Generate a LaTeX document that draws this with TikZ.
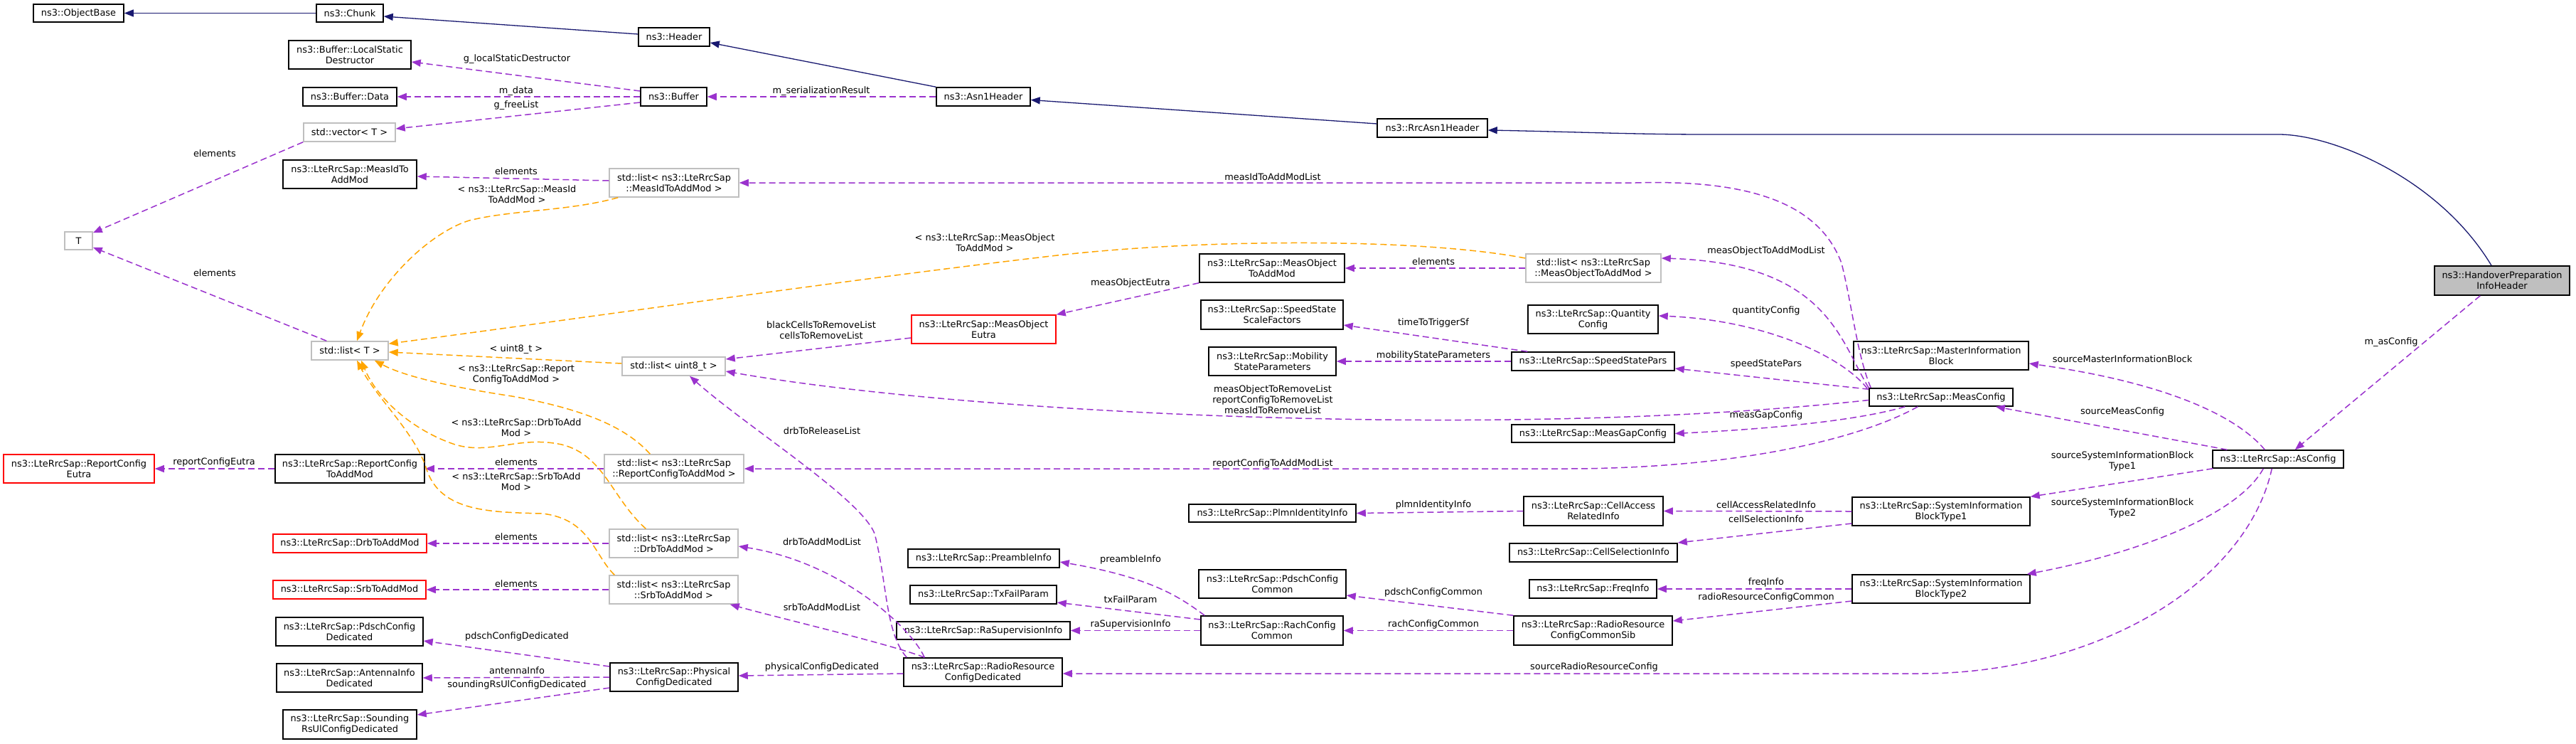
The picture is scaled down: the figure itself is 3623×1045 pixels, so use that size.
\documentclass[tikz,border=0pt]{standalone}
\usepackage{fontspec}
\newfontfamily\dvs{DejaVu Sans}
\usetikzlibrary{arrows.meta,calc}
\definecolor{inhblue}{HTML}{191970}
\definecolor{usepurple}{HTML}{9A32CD}
\definecolor{tmplorange}{HTML}{FFA500}
\definecolor{tplgray}{HTML}{BFBFBF}
\definecolor{mainfill}{HTML}{BFBFBF}
\newcommand\lbl{\dvs\fontsize{12.9}{15}\selectfont}
\begin{document}
\begin{tikzpicture}[x=1pt,y=-1pt,
 box/.style={draw=black, line width=1.5pt, fill=white, inner sep=0pt, align=center, font=\lbl, text=black},
 tpl/.style={box, draw=tplgray},
 undoc/.style={box, draw=red},
 mainbox/.style={box, fill=mainfill},
 lab/.style={inner sep=0pt, align=center, font=\lbl},
 inh/.style={draw=inhblue, line width=1.3pt, -{Triangle[length=13pt,width=10pt]}},
 use/.style={draw=usepurple, line width=1.5pt, dash pattern=on 9pt off 5pt, -{Triangle[length=13pt,width=10pt]}},
 tmpl/.style={draw=tmplorange, line width=1.5pt, dash pattern=on 9pt off 5pt, -{Triangle[length=13pt,width=10pt]}}]
\useasboundingbox (0,0) rectangle (3623,1045);
% nodes
\node[box,minimum width=127pt,minimum height=25pt] (ob) at (110.5,18.5) {ns3::ObjectBase};
\node[box,minimum width=94pt,minimum height=25pt] (chunk) at (492,18.5) {ns3::Chunk};
\node[box,minimum width=100pt,minimum height=26pt] (header) at (948,52) {ns3::Header};
\node[box,minimum width=172pt,minimum height=40pt] (lsd) at (492,77) {ns3::Buffer::LocalStatic\\Destructor};
\node[box,minimum width=132pt,minimum height=26pt] (bdata) at (492,136) {ns3::Buffer::Data};
\node[tpl,minimum width=129pt,minimum height=26pt] (vec) at (491.5,186) {std::vector< T >};
\node[box,minimum width=188pt,minimum height=40pt] (midam) at (492,245) {ns3::LteRrcSap::MeasIdTo\\AddMod};
\node[tpl,minimum width=182pt,minimum height=40pt] (lmid) at (948,257) {std::list< ns3::LteRrcSap\\::MeasIdToAddMod >};
\node[box,minimum width=93pt,minimum height=26pt] (buffer) at (947.5,136) {ns3::Buffer};
\node[tpl,minimum width=39pt,minimum height=25pt] (T) at (110.5,338.5) {T};
\node[box,minimum width=132pt,minimum height=26pt] (asn1) at (1383,136) {ns3::Asn1Header};
\node[box,minimum width=155pt,minimum height=26pt] (rrc) at (2014.5,180) {ns3::RrcAsn1Header};
\node[mainbox,minimum width=190pt,minimum height=41pt] (hpih) at (3519,394.5) {ns3::HandoverPreparation\\InfoHeader};
\node[box,minimum width=246pt,minimum height=40pt] (mib) at (2730,500) {ns3::LteRrcSap::MasterInformation\\Block};
\node[box,minimum width=202pt,minimum height=25pt] (mc) at (2730,558.5) {ns3::LteRrcSap::MeasConfig};
\node[box,minimum width=184pt,minimum height=25pt] (asc) at (3204,645.5) {ns3::LteRrcSap::AsConfig};
\node[box,minimum width=250pt,minimum height=40pt] (sib1) at (2730,719) {ns3::LteRrcSap::SystemInformation\\BlockType1};
\node[box,minimum width=250pt,minimum height=40pt] (sib2) at (2730,828) {ns3::LteRrcSap::SystemInformation\\BlockType2};
\node[tpl,minimum width=190pt,minimum height=40pt] (lmo) at (2241,377) {std::list< ns3::LteRrcSap\\::MeasObjectToAddMod >};
\node[box,minimum width=204pt,minimum height=40pt] (moam) at (1789,377) {ns3::LteRrcSap::MeasObject\\ToAddMod};
\node[box,minimum width=200pt,minimum height=41pt] (sssf) at (1789,442.5) {ns3::LteRrcSap::SpeedState\\ScaleFactors};
\node[box,minimum width=179pt,minimum height=40pt] (msp) at (1789.5,508) {ns3::LteRrcSap::Mobility\\StateParameters};
\node[box,minimum width=183pt,minimum height=40pt] (qc) at (2240.5,449) {ns3::LteRrcSap::Quantity\\Config};
\node[box,minimum width=229pt,minimum height=26pt] (ssp) at (2240.5,508) {ns3::LteRrcSap::SpeedStatePars};
\node[box,minimum width=229pt,minimum height=25pt] (mgc) at (2240.5,609.5) {ns3::LteRrcSap::MeasGapConfig};
\node[undoc,minimum width=203pt,minimum height=40pt] (moe) at (1383.5,463) {ns3::LteRrcSap::MeasObject\\Eutra};
\node[tpl,minimum width=145pt,minimum height=26pt] (lu8) at (947.5,515) {std::list< uint8\_t >};
\node[tpl,minimum width=196pt,minimum height=40pt] (lrc) at (948,659) {std::list< ns3::LteRrcSap\\::ReportConfigToAddMod >};
\node[tpl,minimum width=108pt,minimum height=26pt] (lt) at (492,493) {std::list< T >};
\node[undoc,minimum width=212pt,minimum height=40pt] (rce) at (111,659) {ns3::LteRrcSap::ReportConfig\\Eutra};
\node[box,minimum width=210pt,minimum height=40pt] (rctam) at (492,659) {ns3::LteRrcSap::ReportConfig\\ToAddMod};
\node[undoc,minimum width=216pt,minimum height=26pt] (drb) at (492,764) {ns3::LteRrcSap::DrbToAddMod};
\node[undoc,minimum width=215pt,minimum height=26pt] (srb) at (491.5,829) {ns3::LteRrcSap::SrbToAddMod};
\node[tpl,minimum width=181pt,minimum height=40pt] (ldrb) at (947.5,764) {std::list< ns3::LteRrcSap\\::DrbToAddMod >};
\node[tpl,minimum width=181pt,minimum height=40pt] (lsrb) at (947.5,829) {std::list< ns3::LteRrcSap\\::SrbToAddMod >};
\node[box,minimum width=207pt,minimum height=40pt] (pcd) at (491.5,888) {ns3::LteRrcSap::PdschConfig\\Dedicated};
\node[box,minimum width=205pt,minimum height=40pt] (aid) at (491.5,953) {ns3::LteRrcSap::AntennaInfo\\Dedicated};
\node[box,minimum width=188pt,minimum height=41pt] (srs) at (492,1018.5) {ns3::LteRrcSap::Sounding\\RsUlConfigDedicated};
\node[box,minimum width=180pt,minimum height=40pt] (phy) at (948,952) {ns3::LteRrcSap::Physical\\ConfigDedicated};
\node[box,minimum width=223pt,minimum height=40pt] (rrcd) at (1382.5,945) {ns3::LteRrcSap::RadioResource\\ConfigDedicated};
\node[box,minimum width=213pt,minimum height=26pt] (pre) at (1383.5,785) {ns3::LteRrcSap::PreambleInfo};
\node[box,minimum width=206pt,minimum height=26pt] (txf) at (1383,836) {ns3::LteRrcSap::TxFailParam};
\node[box,minimum width=244pt,minimum height=25pt] (rasup) at (1383,886.5) {ns3::LteRrcSap::RaSupervisionInfo};
\node[box,minimum width=200pt,minimum height=41pt] (rcc) at (1789,886.5) {ns3::LteRrcSap::RachConfig\\Common};
\node[box,minimum width=207pt,minimum height=40pt] (pdcc) at (1789.5,821) {ns3::LteRrcSap::PdschConfig\\Common};
\node[box,minimum width=235pt,minimum height=25pt] (plmn) at (1789.5,721.5) {ns3::LteRrcSap::PlmnIdentityInfo};
\node[box,minimum width=196pt,minimum height=41pt] (cari) at (2241,718.5) {ns3::LteRrcSap::CellAccess\\RelatedInfo};
\node[box,minimum width=236pt,minimum height=26pt] (csi) at (2241,777) {ns3::LteRrcSap::CellSelectionInfo};
\node[box,minimum width=179pt,minimum height=26pt] (fi) at (2240.5,828) {ns3::LteRrcSap::FreqInfo};
\node[box,minimum width=223pt,minimum height=41pt] (rccs) at (2240.5,886.5) {ns3::LteRrcSap::RadioResource\\ConfigCommonSib};
% inheritance
\draw[inh] (chunk.west) -- (ob.east);
\draw[inh] ($(header.west)+(0,-4)$) -- ($(chunk.east)+(0,4.5)$);
\draw[inh] (asn1.north west) -- ($(header.east)+(0,8)$);
\draw[inh] ($(rrc.west)+(0,-6)$) -- ($(asn1.east)+(0,4.5)$);
\draw[inh] ($(hpih.north)+(-15,0)$) .. controls (3430,250) and (3280,189) .. (3205,189) -- (2400,189) .. controls (2300,189) and (2200,185) .. ($(rrc.east)+(0,3)$);
% usage
\draw[use] ($(buffer.west)+(0,-8)$) -- ($(lsd.east)+(0,10)$);
\draw[use] (buffer.west) -- (bdata.east);
\draw[use] ($(buffer.west)+(0,8)$) -- ($(vec.east)+(0,-5)$);
\draw[use] (asn1.west) -- (buffer.east);
\draw[use] (vec.south west) -- ($(T.north east)+(0,2)$);
\draw[use] ($(lt.north west)+(22,0)$) -- ($(T.south east)+(0,-4)$);
\draw[use] ($(lmid.west)+(0,-3)$) -- ($(midam.east)+(0,3)$);
\draw[use] ($(mc.north west)+(3,0)$) .. controls (2612,500) and (2605,430) .. (2590,370) .. controls (2560,290) and (2470,252) .. (2300,257) -- (lmid.east);
\draw[use] (mc.north west) .. controls (2588,480) and (2570,370) .. ($(lmo.east)+(0,-14)$);
\draw[use] (lmo.west) -- (moam.east);
\draw[use] (moam.south west) -- (moe.north east);
\draw[use] ($(moe.west)+(0,12)$) -- ($(lu8.east)+(0,-10)$);
\draw[use] ($(mc.west)+(0,4)$) .. controls (2100,620) and (1350,580) .. ($(lu8.east)+(0,7)$);
\draw[use] ($(ssp.north west)+(23,0)$) -- ($(sssf.east)+(0,14.5)$);
\draw[use] (ssp.west) -- (msp.east);
\draw[use] ($(mc.north west)+(-2,1)$) .. controls (2590,500) and (2480,450) .. ($(qc.east)+(0,-5)$);
\draw[use] ($(mc.north west)+(0,2)$) -- ($(ssp.east)+(0,10)$);
\draw[use] ($(mc.south west)+(51,0)$) .. controls (2600,595) and (2450,605) .. (mgc.east);
\draw[use] ($(mc.south west)+(69,0)$) .. controls (2620,615) and (2450,659) .. (2200,659) -- (lrc.east);
\draw[use] (lrc.west) -- (rctam.east);
\draw[use] (rctam.west) -- (rce.east);
\draw[use] (ldrb.west) -- (drb.east);
\draw[use] (lsrb.west) -- (srb.east);
\draw[use] ($(rrcd.north west)+(5,0)$) .. controls (1245,890) and (1248,820) .. (1230,750) .. controls (1210,700) and (1050,600) .. ($(lu8.south)+(22.5,0)$);
\draw[use] ($(rrcd.north west)+(30,0)$) .. controls (1280,880) and (1180,790) .. ($(ldrb.east)+(0,4)$);
\draw[use] ($(rrcd.north west)+(30,0)$) .. controls (1250,905) and (1100,870) .. ($(lsrb.south east)+(-12,0)$);
\draw[use] ($(rrcd.west)+(0,2)$) -- ($(phy.east)+(0,-2)$);
\draw[use] ($(phy.west)+(0,-15)$) -- ($(pcd.east)+(0,13)$);
\draw[use] (phy.west) -- (aid.east);
\draw[use] ($(phy.west)+(0,15)$) -- ($(srs.east)+(0,-13.5)$);
\draw[use] ($(rcc.north west)+(6,0)$) .. controls (1660,840) and (1620,812) .. ($(pre.east)+(0,5)$);
\draw[use] ($(rcc.west)+(0,-15.5)$) -- ($(txf.east)+(0,11)$);
\draw[use] (rcc.west) -- (rasup.east);
\draw[use] (cari.west) -- (plmn.east);
\draw[use] (sib1.west) -- (cari.east);
\draw[use] ($(sib1.west)+(0,17)$) -- ($(csi.east)+(0,-14)$);
\draw[use] (sib2.west) -- (fi.east);
\draw[use] ($(sib2.west)+(0,17)$) -- ($(rccs.east)+(0,-13.5)$);
\draw[use] (rccs.north west) -- ($(pdcc.east)+(0,16)$);
\draw[use] (rccs.west) -- (rcc.east);
\draw[use] ($(asc.north west)+(74,0)$) .. controls (3150,590) and (3060,540) .. ($(mib.east)+(0,11)$);
\draw[use] ($(asc.north west)+(21,0)$) -- ($(mc.south east)+(-25,0)$);
\draw[use] ($(asc.south west)+(1,0)$) -- (sib1.north east);
\draw[use] ($(asc.south west)+(72,0)$) .. controls (3150,720) and (3020,775) .. ($(sib2.north east)+(-5,0)$);
\draw[use] ($(asc.south west)+(84,0)$) .. controls (3160,820) and (2950,947) .. (2700,947) -- ($(rrcd.east)+(0,2)$);
\draw[use] ($(hpih.south west)+(65,0)$) -- ($(asc.north east)+(-69,0)$);
% template instances
\draw[tmpl] ($(lmid.south west)+(13,0)$) .. controls (800,297) and (720,295) .. (660,310) .. controls (610,325) and (535,390) .. ($(lt.north)+(10,0)$);
\draw[tmpl] ($(lmo.west)+(0,-14)$) .. controls (2000,335) and (1700,335) .. (1487,359) .. controls (1200,392) and (800,450) .. ($(lt.north east)+(0,4)$);
\draw[tmpl] ($(lu8.west)+(0,-4)$) -- ($(lt.east)+(0,2)$);
\draw[tmpl] ($(lrc.north west)+(65,0)$) .. controls (880,600) and (820,575) .. (720,557) .. controls (640,545) and (570,530) .. ($(lt.south east)+(-20,0)$);
\draw[tmpl] ($(ldrb.north west)+(52,0)$) .. controls (860,700) and (850,640) .. (790,625) .. controls (730,612) and (690,640) .. (640,625) .. controls (580,605) and (530,560) .. ($(lt.south)+(16,0)$);
\draw[tmpl] ($(lsrb.north west)+(8,0)$) .. controls (835,780) and (830,730) .. (763,722) .. controls (690,720) and (620,720) .. (600,660) .. controls (585,610) and (530,560) .. ($(lt.south)+(10,0)$);
% labels
\node[lab] (l6) at (727,83) {g\_localStaticDestructor};
\node[lab] (l7) at (726,128) {m\_data};
\node[lab] (l8) at (726,148) {g\_freeList};
\node[lab] (l9) at (1155,128) {m\_serializationResult};
\node[lab] (l10) at (302,216) {elements};
\node[lab] (l11) at (302,384) {elements};
\node[lab] (l12) at (726,241) {elements};
\node[lab] (l13) at (1790,249) {measIdToAddModList};
\node[lab] (l14) at (2484,353) {measObjectToAddModList};
\node[lab] (l15) at (2016,368) {elements};
\node[lab] (l16) at (1590,398) {measObjectEutra};
\node[lab] (l17) at (1155,464.5) {blackCellsToRemoveList\\cellsToRemoveList};
\node[lab] (l18) at (1790,562) {measObjectToRemoveList\\reportConfigToRemoveList\\measIdToRemoveList};
\node[lab] (l19) at (2016,454) {timeToTriggerSf};
\node[lab] (l20) at (2016,500) {mobilityStateParameters};
\node[lab] (l21) at (2484,437) {quantityConfig};
\node[lab] (l22) at (2484,512) {speedStatePars};
\node[lab] (l23) at (2484,584) {measGapConfig};
\node[lab] (l24) at (1790,652) {reportConfigToAddModList};
\node[lab] (l25) at (726,650) {elements};
\node[lab] (l26) at (301,650) {reportConfigEutra};
\node[lab] (l27) at (726,755) {elements};
\node[lab] (l28) at (726,821) {elements};
\node[lab] (l29) at (1156,606) {drbToReleaseList};
\node[lab] (l30) at (1156,762) {drbToAddModList};
\node[lab] (l31) at (1156,854) {srbToAddModList};
\node[lab] (l32) at (1156,938) {physicalConfigDedicated};
\node[lab] (l33) at (727,895) {pdschConfigDedicated};
\node[lab] (l34) at (727,943) {antennaInfo};
\node[lab] (l35) at (727,963) {soundingRsUlConfigDedicated};
\node[lab] (l36) at (1590,787) {preambleInfo};
\node[lab] (l37) at (1590,843) {txFailParam};
\node[lab] (l38) at (1590,878) {raSupervisionInfo};
\node[lab] (l39) at (2016,710) {plmnIdentityInfo};
\node[lab] (l40) at (2484,710) {cellAccessRelatedInfo};
\node[lab] (l41) at (2484,730) {cellSelectionInfo};
\node[lab] (l42) at (2484,819) {freqInfo};
\node[lab] (l43) at (2484,840) {radioResourceConfigCommon};
\node[lab] (l44) at (2016,833) {pdschConfigCommon};
\node[lab] (l45) at (2016,878) {rachConfigCommon};
\node[lab] (l46) at (2985,505) {sourceMasterInformationBlock};
\node[lab] (l47) at (2985,579) {sourceMeasConfig};
\node[lab] (l48) at (2985,648) {sourceSystemInformationBlock\\Type1};
\node[lab] (l49) at (2985,714) {sourceSystemInformationBlock\\Type2};
\node[lab] (l50) at (2242,938) {sourceRadioResourceConfig};
\node[lab] (l51) at (3363,481) {m\_asConfig};
\node[lab] (l52) at (727,273) {< ns3::LteRrcSap::MeasId\\ToAddMod >};
\node[lab] (l53) at (1385,341) {< ns3::LteRrcSap::MeasObject\\ToAddMod >};
\node[lab] (l54) at (726,491) {< uint8\_t >};
\node[lab] (l55) at (726,527) {< ns3::LteRrcSap::Report\\ConfigToAddMod >};
\node[lab] (l56) at (726,601) {< ns3::LteRrcSap::DrbToAdd\\Mod >};
\node[lab] (l57) at (726,677.5) {< ns3::LteRrcSap::SrbToAdd\\Mod >};
\end{tikzpicture}
\end{document}
